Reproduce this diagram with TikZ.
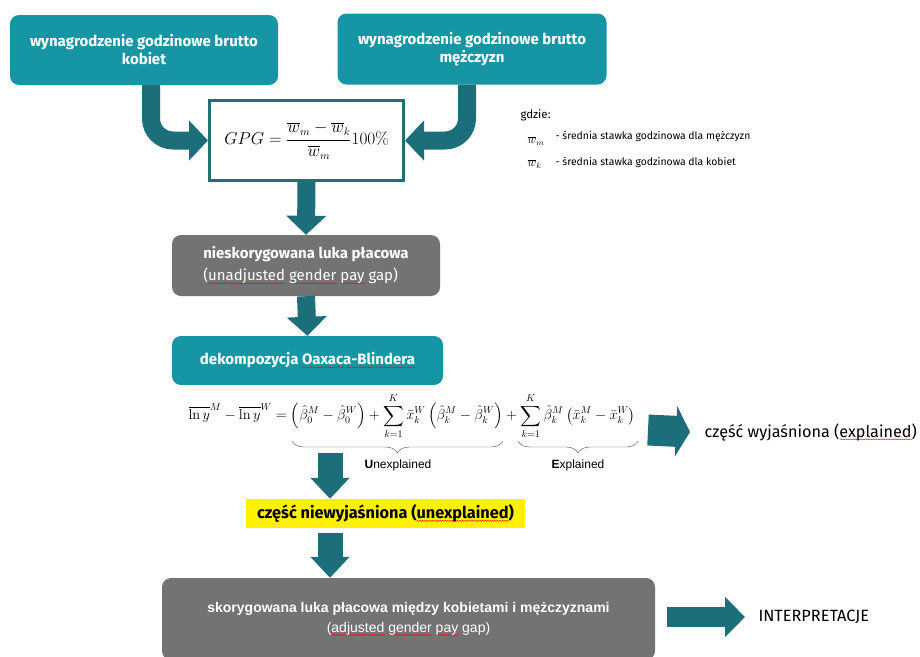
\documentclass[tikz,border=0pt]{standalone}
\usepackage[no-math]{fontspec}
\usepackage{amsmath}
\usetikzlibrary{arrows.meta,decorations.pathreplacing,decorations.pathmorphing}
\setmainfont{Fira Sans}
\newfontfamily\arialfont{Liberation Sans}
\definecolor{boxteal}{HTML}{1696A5}
\definecolor{arrowteal}{HTML}{1B6E7A}
\definecolor{frameteal}{HTML}{1F6F75}
\definecolor{boxgray}{HTML}{737373}
\definecolor{hiyellow}{HTML}{FFF000}
\newsavebox\spellbox
\newcommand\spellerr[1]{\begingroup\sbox\spellbox{#1}\rlap{\smash{\raisebox{-3pt}{\tikz[x=1pt,y=1pt,sharp corners,line width=0.4pt]
    \draw[red, decorate, decoration={snake, amplitude=0.5pt, segment length=2.5pt}] (0,0) -- (\the\wd\spellbox,0);}}}\usebox\spellbox\endgroup}

\begin{document}
\begin{tikzpicture}[x=1pt,y=-1pt,
    tealbox/.style={fill=boxteal, rounded corners=9pt, text=white, align=center,
        font=\fontsize{15}{18}\selectfont\bfseries},
    graybox/.style={fill=boxgray, rounded corners=9pt, text=white, align=center},
    fatarrow/.style={draw=arrowteal, line width=18pt, -{Triangle[length=19pt,width=39pt]}},
    widearrow/.style={draw=arrowteal, line width=25pt, -{Triangle[length=21pt,width=38pt]}},
    sidearrow/.style={draw=arrowteal, line width=20pt, -{Triangle[length=20pt,width=39pt]}},
    underbr/.style={decorate, decoration={brace, mirror, amplitude=12pt}, draw=black!70, thin},
    legend/.style={anchor=west, font=\fontsize{10.4}{12}\selectfont}]
    \useasboundingbox (0,0) rectangle (920,656);
    % top boxes and the formula
    \node[tealbox, minimum width=268pt, minimum height=70pt] (kob) at (144,50) {wynagrodzenie godzinowe brutto\\kobiet};
    \node[tealbox, minimum width=269pt, minimum height=71pt] (mez) at (472,49) {wynagrodzenie godzinowe brutto\\mężczyzn};
    \node[draw=frameteal, line width=3pt, fill=white, minimum width=194pt, minimum height=80pt] (gpg) at (306.5,140.5)
        {\fontsize{16}{19}\selectfont $GPG=\dfrac{\overline{w}_m-\overline{w}_k}{\overline{w}_m}100\%$};
    \node[anchor=west, font=\fontsize{11.5}{13}\selectfont] (gdzie) at (517,115) {gdzie:};
    \node[legend, font=\fontsize{12}{14}\selectfont] (wm) at (524,141) {$\overline{w}_m$};
    \node[legend] (legm) at (552,137) {- średnia stawka godzinowa dla mężczyzn};
    \node[legend, font=\fontsize{12}{14}\selectfont] (wk) at (524,164) {$\overline{w}_k$};
    \node[legend] (legk) at (552,162) {- średnia stawka godzinowa dla kobiet};
    \coordinate (kobx) at (151,0);
    \coordinate (mezx) at (467,0);
    \draw[fatarrow, rounded corners=22pt] (kob.south -| kobx) |- (gpg.west);
    \draw[fatarrow, rounded corners=22pt] (mez.south -| mezx) |- (gpg.east);
    % unadjusted gap and decomposition
    \node[graybox, minimum width=268pt, minimum height=61pt, align=left, font=\fontsize{15}{22}\selectfont] (nieskor) at (306,265.5)
        {\textbf{nieskorygowana luka płacowa}\\(\spellerr{unadjusted} \spellerr{gender} \spellerr{pay} gap)};
    \node[tealbox, minimum width=271pt, minimum height=49pt] (dekomp) at (307.5,360.5) {dekompozycja \spellerr{Oaxaca-Blindera}};
    \draw[fatarrow] (gpg.south) -- (nieskor.north);
    \draw[fatarrow] (nieskor.south) -- (dekomp.north);
    \node[font=\fontsize{14}{17}\selectfont] (rownanie) at (412,416)
        {$\displaystyle \overline{\ln y}^{M}-\overline{\ln y}^{W}=\left(\hat{\beta}_0^{M}-\hat{\beta}_0^{W}\right)
        +\sum_{k=1}^{K}\bar{x}_k^{W}\left(\hat{\beta}_k^{M}-\hat{\beta}_k^{W}\right)
        +\sum_{k=1}^{K}\hat{\beta}_k^{M}\left(\bar{x}_k^{M}-\bar{x}_k^{W}\right)$};
    \draw[underbr] (292,441) -- (503,441);
    \draw[underbr] (518,441) -- (638,441);
    \node[font=\arialfont\fontsize{12}{14}\selectfont] (unexp) at (398,465) {\textbf{U}nexplained};
    \node[font=\arialfont\fontsize{12}{14}\selectfont] (exp) at (578,465) {\textbf{E}xplained};
    \node[anchor=west, font=\fontsize{16.2}{19}\selectfont] (wyj) at (701,432) {część wyjaśniona (\spellerr{explained})};
    \coordinate (wyjstart) at (648,430);
    \draw[draw=arrowteal, line width=31pt, -{Triangle[length=14pt,width=50pt]}] (wyjstart) -- ([xshift=-11pt]wyj.west);
    % unexplained part and adjusted gap
    \node[fill=hiyellow, minimum width=279pt, minimum height=29pt, font=\fontsize{16.3}{19}\selectfont\bfseries] (niewyj) at (385.5,513.5)
        {część niewyjaśniona (\spellerr{unexplained})};
    \node[graybox, minimum width=493pt, minimum height=82pt, font=\arialfont\fontsize{14}{20}\selectfont] (skor) at (408.5,619)
        {\textbf{skorygowana luka płacowa między kobietami i mężczyznami}\\(\spellerr{adjusted} \spellerr{gender} \spellerr{pay} gap)};
    \coordinate (rozgal) at (330,453);
    \draw[widearrow] (rozgal) -- (rozgal |- niewyj.north);
    \draw[widearrow, shorten <=5pt] (rozgal |- niewyj.south) -- (rozgal |- skor.north);
    \node[anchor=west, font=\fontsize{16.3}{19}\selectfont] (interp) at (755,617) {INTERPRETACJE};
    \draw[sidearrow] ([xshift=12pt]skor.east |- interp.west) -- ([xshift=-10pt]interp.west);
\end{tikzpicture}
\end{document}
